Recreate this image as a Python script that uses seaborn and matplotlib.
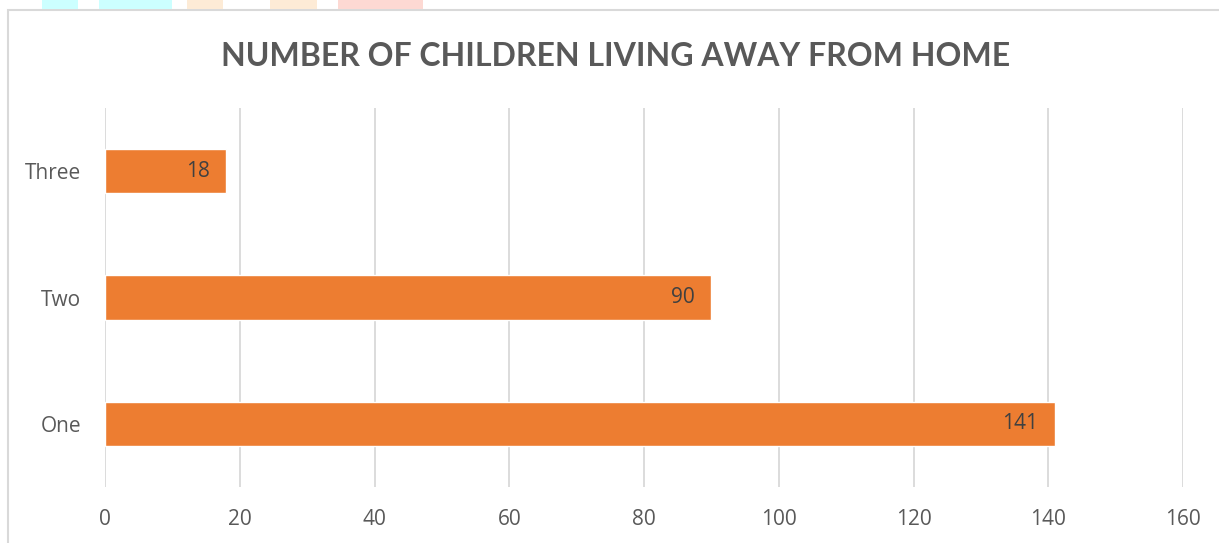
import matplotlib
matplotlib.use("Agg")
import matplotlib.pyplot as plt
import matplotlib.patches as mpatches
import seaborn as sns
import pandas as pd

categories = ["Three", "Two", "One"]
values = [18, 90, 141]
x_ticks = [0, 20, 40, 60, 80, 100, 120, 140, 160]
title = "NUMBER OF CHILDREN LIVING AWAY FROM HOME"

sns.set_theme(style="white")
plt.rcParams['font.family'] = ['Open Sans', 'DejaVu Sans']

W, H = 1219, 543
fig = plt.figure(figsize=(W / 100, H / 100), dpi=100)
fig.patch.set_facecolor("white")
ax = fig.add_axes([105 / W, 1 - 487 / H, (1183 - 105) / W, (487 - 108) / H])

df = pd.DataFrame({"cat": categories, "val": values})
sns.barplot(data=df, x="val", y="cat", order=categories, color="#ED7D31",
            saturation=1, width=0.35, ax=ax, zorder=3)

ax.set_xlim(0, 160)
ax.set_xticks(x_ticks)
ax.set_xticklabels([str(t) for t in x_ticks])
ax.set_xlabel("")
ax.set_ylabel("")
ax.grid(axis="x", color="#d9d9d9", linewidth=1.3, zorder=0)
ax.grid(axis="y", visible=False)
for s in ax.spines.values():
    s.set_visible(False)
ax.tick_params(axis="x", length=0, pad=16, labelsize=15, labelcolor="#595959")
ax.tick_params(axis="y", length=0, pad=17, labelsize=15, labelcolor="#595959")

for cont in ax.containers:
    labels = ax.bar_label(cont, padding=-12, fontsize=15, color="#404040")
    for t in labels:
        t.set_ha("right")

fig.text(616 / W, 1 - 56 / H, title, ha="center", va="center",
         fontsize=23, fontweight="bold", color="#595959",
         family=['Liberation Sans Narrow', 'Lato', 'DejaVu Sans'])

# chart border
fig.patches.append(mpatches.Rectangle((8 / W, -0.1), 1.2, 1 - 10 / H + 0.1,
                                      transform=fig.transFigure, fill=False,
                                      edgecolor="#d9d9d9", linewidth=1.5))
# faint logo fragments above border
for x0, x1, c in [(42, 78, "#ccffff"), (99, 172, "#ccffff"), (187, 223, "#fdebd6"),
                  (270, 317, "#fdebd6"), (338, 423, "#fdd9d3")]:
    fig.patches.append(mpatches.Rectangle((x0 / W, 1 - 9 / H), (x1 - x0) / W, 9 / H,
                                          transform=fig.transFigure, color=c, linewidth=0))

fig.savefig("out.png", dpi=100)
